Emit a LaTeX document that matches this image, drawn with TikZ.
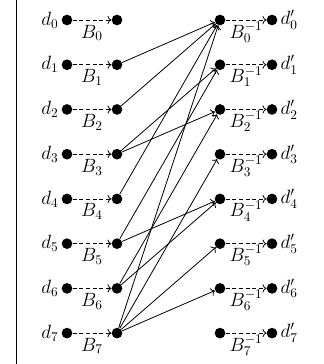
\documentclass[tikz,border=0pt]{standalone}
\usetikzlibrary{positioning, arrows.meta}

\begin{document}
\begin{tikzpicture}[x=0.75pt, y=-0.75pt,
    dot/.style={circle, fill=black, inner sep=0pt, minimum size=8pt},
    lbl/.style={font=\fontsize{14.5}{17}\selectfont, inner sep=1pt},
    pass/.style={->, line width=0.6pt, dash pattern=on 3pt off 2pt},
    link/.style={->, line width=0.6pt}]
    \useasboundingbox (0,0) rectangle (324,364);
    \draw[line width=0.75pt] (16,0) -- (16,364);
    \foreach \i in {0,...,7} {
      \node[dot] (a\i) at (67, {20+44.73*\i}) {};
      \node[dot] (b\i) at (117, {20+44.73*\i}) {};
      \node[dot] (c\i) at (220, {20+44.73*\i}) {};
      \node[dot] (e\i) at (272, {20+44.73*\i}) {};
      \node[lbl, left=1pt of a\i] (d\i) {$d_{\i}$};
      \node[lbl, right=1pt of e\i] (f\i) {$d'_{\i}$};
      \draw[pass] (a\i) -- node[lbl, anchor=base, yshift=-13.5pt] (p\i) {$B_{\i}$} (b\i);
      \draw[pass] (c\i) -- node[lbl, anchor=base, yshift=-13.5pt] (q\i) {$B_{\i}^{-1}$} (e\i);
    }
    \foreach \s/\t in {1/0, 2/0, 3/1, 3/2, 4/0, 5/1, 5/4, 6/2, 6/4, 7/0, 7/3, 7/5, 7/6}
      \draw[link] (b\s) -- (c\t);
\end{tikzpicture}
\end{document}
